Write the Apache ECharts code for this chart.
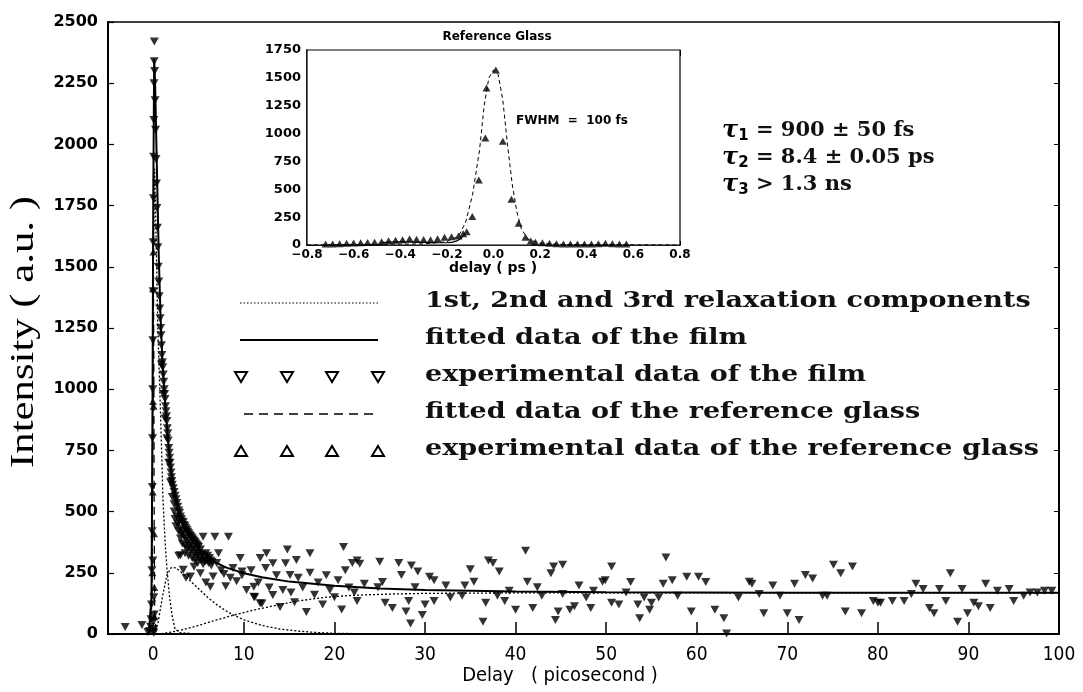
<!DOCTYPE html>
<html>
<head>
<meta charset="utf-8">
<script src="https://cdn.jsdelivr.net/npm/echarts@6/dist/echarts.min.js"></script>
<style>
html,body{margin:0;padding:0;background:#fff;}
#chart{width:1083px;height:692px;}
</style>
</head>
<body>
<div id="chart"></div>
<script>
// ---------- Main plot data (Delay in ps, Intensity in a.u.) ----------
const xTickLabels = [0,10,20,30,40,50,60,70,80,90,100];
const xTickMarks = [10,20,30,40,50,60,70,80,90];

const filmExperimental = [
  [-3.1,29],[-1.25,37],[-0.6,8],[-0.4,12],
  [-0.3,30],[-0.25,60],[-0.2,120],[-0.15,260],[-0.12,420],[-0.1,600],[-0.08,800],[-0.06,1000],[-0.04,1200],[-0.02,1400],
  [0,1600],[0.02,1780],[0.04,1950],[0.06,2100],[0.08,2250],[0.1,2340],[0.12,2420],[0.15,2300],[0.2,2180],[0.25,2060],
  [0.3,1940],[0.35,1840],[0.4,1740],[0.45,1660],[0.5,1580],[0.55,1500],[0.6,1440],[0.65,1380],[0.7,1330],
  [0,50],[0.05,150],[-0.05,300],[0.1,80],[0.02,20],[-0.02,10],[0.05,5],
  [0.75,1290],[0.8,1250],[0.85,1220],[0.9,1180],[0.95,1140],[1.0,1110],[1.05,1090],[1.1,1060],[1.15,1030],[1.2,1000],
  [1.25,980],[1.3,960],[1.35,930],[1.4,910],[1.45,890],[1.5,870],[1.55,840],[1.6,820],[1.65,790],[1.7,760],[1.75,740],
  [1.8,720],[1.85,700],[1.9,680],[1.95,660],[2.0,640],[2.05,625],[2.1,610],[2.2,595],[2.3,580],[2.4,565],[2.5,550],
  [2.6,535],[2.7,520],[2.8,505],[2.9,495],[3.0,480],[3.1,470],[3.2,460],[3.3,455],[3.4,445],[3.5,440],[3.6,432],
  [3.7,425],[3.8,418],[3.9,412],[4.0,405],[4.1,400],[4.2,395],[4.3,390],[4.4,385],[4.5,380],[4.6,375],[4.7,370],
  [4.8,365],[4.9,360],[5.0,355],
  [0.9,1100],[1.1,980],[1.3,880],[1.5,800],[1.7,700],[1.9,620],[2.1,560],[2.3,530],
  [2.3,500],[2.4,470],[2.5,440],[2.6,480],[2.7,450],[2.8,420],[2.9,460],[3.0,430],[3.0,390],[3.1,410],[3.2,370],
  [3.3,420],[3.4,400],[3.5,360],[3.5,330],[3.6,390],[3.7,350],[3.8,380],[3.9,320],[4.0,360],[4.1,340],[4.2,370],
  [4.3,310],[4.4,350],[4.5,330],[4.6,300],[4.7,345],[4.8,320],[4.9,290],[5.0,330],[5.1,310],[5.2,345],[5.3,300],
  [5.4,325],[5.5,285],[5.6,315],[5.7,295],[5.8,330],[5.9,300],[6.0,320],[6.1,290],[6.2,310],[6.3,300],[6.4,280],[6.5,295],
  [2.8,320],[3.0,322],[3.3,262],[3.6,230],[4.1,235],[4.5,275],[5.2,248],[5.5,397],[5.8,210],[6.3,193],[6.6,235],
  [6.8,397],[7.0,290],[7.2,330],[7.5,260],[7.8,245],[8.0,195],[8.3,397],[8.5,230],[8.8,270],[9.2,215],[9.6,310],[9.8,255],
  [9.8,240],[10.3,180],[10.8,260],[11.1,193],[11.1,152],[11.2,150],[11.6,210],[11.8,126],[11.8,310],[12.0,125],
  [12.4,270],[12.5,330],[12.8,190],[13.2,159],[13.2,289],[13.6,240],[14.0,110],[14.3,180],[14.6,289],[14.8,345],
  [15.1,241],[15.2,170],[15.6,130],[15.8,302],[16.0,230],[16.5,190],[16.9,90],[17.3,330],[17.3,250],[17.8,160],
  [18.2,210],[18.7,120],[19.1,240],[19.5,180],[20.0,150],[20.4,220],[20.8,100],[21.0,355],[21.2,260],[21.6,190],
  [21.98,290],[22.5,300],[22.8,287],[23.3,205],[22.2,170],[22.5,135],[24.8,191],[25.0,295],[25.3,212],[25.6,128],
  [26.4,106],[27.1,290],[27.4,241],[27.9,92],[28.2,135],[28.4,43],[28.5,280],[28.9,191],[29.2,255],[29.7,78],
  [30.0,120],[30.5,234],[31.0,220],[31.0,135],[32.3,198],[32.8,149],[34.1,156],[34.4,198],[35.0,265],[35.4,213],
  [36.4,50],[36.7,128],[37.0,300],[37.5,290],[38.0,156],[38.2,255],[38.8,135],[39.3,177],[40.0,99],[41.1,340],
  [41.3,213],[41.9,106],[42.4,191],[42.9,156],[43.9,248],[44.2,276],[44.4,57],[44.7,92],[45.2,283],[45.2,163],
  [46.0,99],[46.5,113],[47.0,198],[47.8,149],[48.3,106],[48.6,177],[49.6,213],[49.9,220],[50.6,276],[50.6,128],
  [51.4,120],[52.2,170],[52.7,212],[53.5,120],[53.7,64],[54.2,149],[54.8,99],[55.0,128],[55.8,149],[56.3,205],
  [56.6,312],[57.3,220],[57.9,156],[58.9,234],[59.4,92],[60.2,234],[61.0,212],[62.0,99],[63.0,64],[63.3,2],
  [64.6,149],[65.8,213],[66.1,205],[66.9,163],[67.4,85],[68.4,198],[69.2,156],[70.0,85],[70.8,205],[71.3,57],
  [72.0,241],[72.8,227],[73.9,156],[74.4,156],[75.1,283],[75.9,248],[76.4,92],[77.2,276],[78.2,85],[79.5,135],
  [80.0,128],[80.3,128],[81.6,135],[82.9,135],[83.7,163],[84.2,205],[85.0,184],[85.7,106],[86.2,85],[86.8,184],
  [87.5,135],[88.0,248],[88.8,50],[89.3,184],[89.9,85],[90.6,128],[91.1,113],[91.9,205],[92.4,106],[93.2,177],
  [94.5,184],[95.0,135],[96.1,156],[96.8,170],[97.6,170],[98.4,177],[99.2,177]
];

const filmFitted = [
  [-5,0],[-0.5,0],[-0.2,150],[-0.1,800],[0,1800],[0.1,2350],[0.2,2250],[0.4,1900],[0.6,1550],[0.8,1300],
  [1.0,1120],[1.3,950],[1.6,800],[2,660],[2.5,560],[3,490],[3.5,440],[4,400],[5,350],[6,315],[7,290],[8,272],
  [10,248],[12,232],[15,214],[20,197],[25,186],[30,180],[40,174],[50,171],[60,170],[70,169],[80,169],[90,168],[100,168]
];

const component1 = [
  [-0.5,0],[-0.2,100],[-0.1,600],[0,1500],[0.15,1900],[0.3,1650],[0.5,1250],[0.8,900],[1.07,550],[1.3,380],
  [1.5,270],[1.8,150],[2.1,70],[2.4,20],[3,5],[5,0],[100,0]
];
const component2 = [
  [0,0],[0.5,40],[1,150],[1.5,240],[2,272],[2.5,270],[3,255],[4,220],[5,185],[6,150],[7,120],[8,95],[9,75],
  [10,58],[12,35],[14,20],[16,12],[18,6],[20,3],[25,0],[100,0]
];
const component3 = [
  [0,0],[1,2],[2,8],[3,15],[5,35],[7,58],[9,78],[11,97],[13,113],[16,135],[19,150],[22,158],[26,163],
  [30,166],[40,168],[60,168],[100,168]
];

const glassFittedMain = [
  [-0.6,0],[-0.3,30],[-0.15,150],[-0.1,600],[-0.05,1200],[0,1560],[0.05,1200],[0.1,450],[0.15,100],[0.3,10],[0.6,0]
];
const glassExperimentalMain = [
  [-0.1,250],[-0.065,580],[-0.04,950],[-0.03,1410],[0.01,1560],[0.04,930],[0.08,410],[0.11,190],[0.14,70]
];

// ---------- Inset data (delay in ps) ----------
const insetGlassExperimental = [
  [-0.72,8],[-0.69,10],[-0.66,12],[-0.63,15],[-0.6,18],[-0.57,20],[-0.54,22],[-0.51,25],[-0.48,30],[-0.45,38],
  [-0.42,42],[-0.39,48],[-0.36,55],[-0.33,52],[-0.3,50],[-0.27,48],[-0.24,55],[-0.21,70],[-0.18,75],[-0.15,80],
  [-0.13,100],[-0.115,120],[-0.091,255],[-0.063,583],[-0.035,960],[-0.03,1410],[0.01,1570],[0.04,930],[0.077,410],
  [0.108,195],[0.137,70],[0.16,35],[0.18,25],[0.21,20],[0.24,15],[0.27,12],[0.3,10],[0.33,10],[0.36,10],[0.39,10],
  [0.42,10],[0.45,12],[0.48,15],[0.51,12],[0.54,10],[0.57,10]
];
const insetGlassFitted = [
  [-0.8,0],[-0.3,10],[-0.2,30],[-0.15,80],[-0.12,200],[-0.09,450],[-0.06,850],[-0.04,1250],[-0.02,1500],
  [0,1570],[0.02,1530],[0.04,1300],[0.06,900],[0.08,550],[0.1,300],[0.12,140],[0.15,50],[0.2,15],[0.3,5],[0.8,0]
];
const insetSolid = [
  [-0.48,22],[-0.4,28],[-0.3,24],[-0.2,20],[-0.16,35],[-0.13,80]
];

// ---------- Texts ----------
const legendTexts = [
  '1st, 2nd and 3rd relaxation components',
  'fitted data of the film',
  'experimental data of the film',
  'fitted data of the reference glass',
  'experimental data of the reference glass'
];
const tauTexts = [
  ['1',' = 900 \u00b1 50 fs'],
  ['2',' = 8.4 \u00b1 0.05 ps'],
  ['3',' > 1.3 ns']
];

const chart = echarts.init(document.getElementById('chart'), null, {renderer:'canvas'});

const tickFont = 'DejaVu Sans';
const condFont = '"DejaVu Sans Condensed","Liberation Sans Narrow","DejaVu Sans",sans-serif';
const serif = '"DejaVu Serif",serif';

// measure helper for horizontal stretching of texts to the reference widths
const mctx = document.createElement('canvas').getContext('2d');
function measure(font, text){ mctx.font = font; return mctx.measureText(text).width; }

const legendFont = 'bold 23px ' + serif;
const legendScale = 614 / measure(legendFont, legendTexts[4]);
const yNameFont = '34px "Liberation Serif",serif';
const yNameText = 'Intensity ( a.u. )';
const yNameScale = 272 / measure(yNameFont, yNameText);

// legend graphics
const legendRowsY = [303, 340, 377, 414, 451];
const legendTriX = [241, 287, 332, 378];
const graphics = [];
graphics.push({type:'line', z:100, shape:{x1:240,y1:legendRowsY[0],x2:378,y2:legendRowsY[0]}, style:{stroke:'#000',lineWidth:1.2,lineDash:[1.5,2]}});
graphics.push({type:'line', z:100, shape:{x1:240,y1:legendRowsY[1],x2:378,y2:legendRowsY[1]}, style:{stroke:'#000',lineWidth:2}});
legendTriX.forEach(x=>{
  const y = legendRowsY[2];
  graphics.push({type:'polygon', z:100, shape:{points:[[x-6,y-5],[x+6,y-5],[x,y+5]]}, style:{fill:'#fff',stroke:'#000',lineWidth:2}});
});
graphics.push({type:'line', z:100, shape:{x1:244,y1:legendRowsY[3],x2:376,y2:legendRowsY[3]}, style:{stroke:'#000',lineWidth:1.5,lineDash:[9,6]}});
legendTriX.forEach(x=>{
  const y = legendRowsY[4];
  graphics.push({type:'polygon', z:100, shape:{points:[[x-6,y+5],[x+6,y+5],[x,y-5]]}, style:{fill:'#fff',stroke:'#000',lineWidth:2}});
});
legendTexts.forEach((t,i)=>{
  graphics.push({type:'text', z:100, x:425, y:legendRowsY[i]-2, scaleX:legendScale, style:{text:t, font:legendFont, fill:'#111', textVerticalAlign:'middle'}});
});
tauTexts.forEach((t,i)=>{
  graphics.push({type:'text', z:100, x:722, y:131+27*i, style:{
    text:'{t|\u03c4}{s|'+t[0]+'}{n|'+t[1]+'}',
    textVerticalAlign:'middle',
    rich:{
      t:{fontFamily:'"DejaVu Serif",serif', fontStyle:'italic', fontWeight:'bold', fontSize:24, fill:'#000'},
      s:{fontFamily:'"DejaVu Sans",sans-serif', fontWeight:'bold', fontSize:15, fill:'#000', padding:[10,0,0,0]},
      n:{fontFamily:'"DejaVu Serif",serif', fontWeight:'bold', fontSize:21, fill:'#111'}
    }
  }});
});
// axis names and inset texts
graphics.push({type:'text', z:100, x:560, y:676, style:{text:'Delay   ( picosecond )', font:'20px '+condFont, fill:'#000', textAlign:'center', textVerticalAlign:'middle'}});
graphics.push({type:'text', z:100, x:24, y:332, rotation:Math.PI/2, scaleX:yNameScale, style:{text:yNameText, font:yNameFont, fill:'#000', textAlign:'center', textVerticalAlign:'middle'}});
graphics.push({type:'text', z:100, x:497, y:37, style:{text:'Reference Glass', font:'bold 12px '+tickFont, fill:'#000', textAlign:'center', textVerticalAlign:'middle'}});
graphics.push({type:'text', z:100, x:493, y:268, style:{text:'delay ( ps )', font:'bold 14px '+tickFont, fill:'#000', textAlign:'center', textVerticalAlign:'middle'}});
graphics.push({type:'text', z:100, x:516, y:121, style:{text:'FWHM  =  100 fs', font:'bold 12px '+tickFont, fill:'#000', textVerticalAlign:'middle'}});

const fmtInsetX = v => (Math.abs(v)<1e-9 ? '0.0' : (v<0 ? '\u2212'+Math.abs(v).toFixed(1) : v.toFixed(1)));
const fmtPlain = v => String(Math.round(v));

const option = {
  backgroundColor:'#fff',
  animation:false,
  grid:[
    {left:108, right:24, top:22, bottom:58, show:true, borderColor:'#000', borderWidth:1.5, containLabel:false},
    {left:307, right:403, top:50, bottom:447, show:true, borderColor:'#000', borderWidth:1.2, backgroundColor:'#fff', containLabel:false, z:5}
  ],
  xAxis:[
    {gridIndex:0, type:'value', min:-5, max:100, interval:5,
      axisLine:{show:true, onZero:false, lineStyle:{color:'#000', width:2}},
      axisTick:{show:true, inside:true, length:12, customValues:xTickMarks, lineStyle:{color:'#000', width:1.5}},
      axisLabel:{show:true, customValues:xTickLabels, color:'#000', fontFamily:condFont, fontSize:19, margin:12},
      splitLine:{show:false}},
    {gridIndex:1, type:'value', min:-0.8, max:0.8, interval:0.2,
      axisLine:{show:true, onZero:false, lineStyle:{color:'#000', width:1.5}},
      axisTick:{show:true, inside:true, length:4, lineStyle:{color:'#000'}},
      axisLabel:{color:'#000', fontFamily:tickFont, fontWeight:'bold', fontSize:12, margin:4, formatter:fmtInsetX},
      splitLine:{show:false}},
    {gridIndex:1, type:'value', position:'top', min:-0.8, max:0.8, interval:0.2,
      axisLine:{show:true, onZero:false, lineStyle:{color:'#000', width:1.2}},
      axisTick:{show:true, inside:true, length:6, lineStyle:{color:'#000'}},
      axisLabel:{show:false}, splitLine:{show:false}}
  ],
  yAxis:[
    {gridIndex:0, type:'value', min:0, max:2500, interval:250,
      axisLine:{show:true, onZero:false, lineStyle:{color:'#000', width:2}},
      axisTick:{show:true, inside:true, length:6, lineStyle:{color:'#000', width:1.2}},
      axisLabel:{color:'#000', fontFamily:tickFont, fontWeight:'bold', fontSize:16, margin:10, formatter:fmtPlain},
      splitLine:{show:false}},
    {gridIndex:0, type:'value', position:'right', min:0, max:2500, interval:250,
      axisLine:{show:true, onZero:false, lineStyle:{color:'#000', width:2}},
      axisTick:{show:true, inside:true, length:5, lineStyle:{color:'#000'}},
      axisLabel:{show:false}, splitLine:{show:false}},
    {gridIndex:1, type:'value', min:0, max:1750, interval:250,
      axisLine:{show:true, onZero:false, lineStyle:{color:'#000', width:1.5}},
      axisTick:{show:true, inside:true, length:7, lineStyle:{color:'#000'}},
      axisLabel:{color:'#000', fontFamily:tickFont, fontWeight:'bold', fontSize:13, margin:6, formatter:fmtPlain},
      splitLine:{show:false}}
  ],
  series:[
    {name:'1st relaxation component', type:'line', xAxisIndex:0, yAxisIndex:0, data:component1, symbol:'none',
      lineStyle:{color:'#000', width:1.3, type:[2,2]}, z:3},
    {name:'2nd relaxation component', type:'line', xAxisIndex:0, yAxisIndex:0, data:component2, symbol:'none',
      lineStyle:{color:'#000', width:1.3, type:[2,2]}, z:3},
    {name:'3rd relaxation component', type:'line', xAxisIndex:0, yAxisIndex:0, data:component3, symbol:'none',
      lineStyle:{color:'#000', width:1.3, type:[2,2]}, z:3},
    {name:'experimental data of the film', type:'scatter', xAxisIndex:0, yAxisIndex:0, data:filmExperimental,
      symbol:'triangle', symbolRotate:180, symbolSize:[9,8], itemStyle:{color:'#000'}, z:4},
    {name:'fitted data of the film', type:'line', xAxisIndex:0, yAxisIndex:0, data:filmFitted, symbol:'none',
      lineStyle:{color:'#000', width:2}, z:4},
    {name:'fitted data of the reference glass', type:'line', xAxisIndex:0, yAxisIndex:0, data:glassFittedMain, symbol:'none',
      lineStyle:{color:'#000', width:1.3, type:[8,5]}, z:4},
    {name:'experimental data of the reference glass', type:'scatter', xAxisIndex:0, yAxisIndex:0, data:glassExperimentalMain,
      symbol:'triangle', symbolSize:[8,7], itemStyle:{color:'#000'}, z:4},
    {name:'inset fitted', type:'line', xAxisIndex:1, yAxisIndex:2, data:insetGlassFitted, symbol:'none',
      lineStyle:{color:'#000', width:1, type:[4,3]}, z:6},
    {name:'inset solid', type:'line', xAxisIndex:1, yAxisIndex:2, data:insetSolid, symbol:'none', smooth:true,
      lineStyle:{color:'#000', width:1.2}, z:6},
    {name:'inset experimental', type:'scatter', xAxisIndex:1, yAxisIndex:2, data:insetGlassExperimental,
      symbol:'triangle', symbolSize:[8,7], itemStyle:{color:'#000'}, z:7}
  ],
  graphic:{elements:graphics}
};
chart.setOption(option);
</script>
</body>
</html>
